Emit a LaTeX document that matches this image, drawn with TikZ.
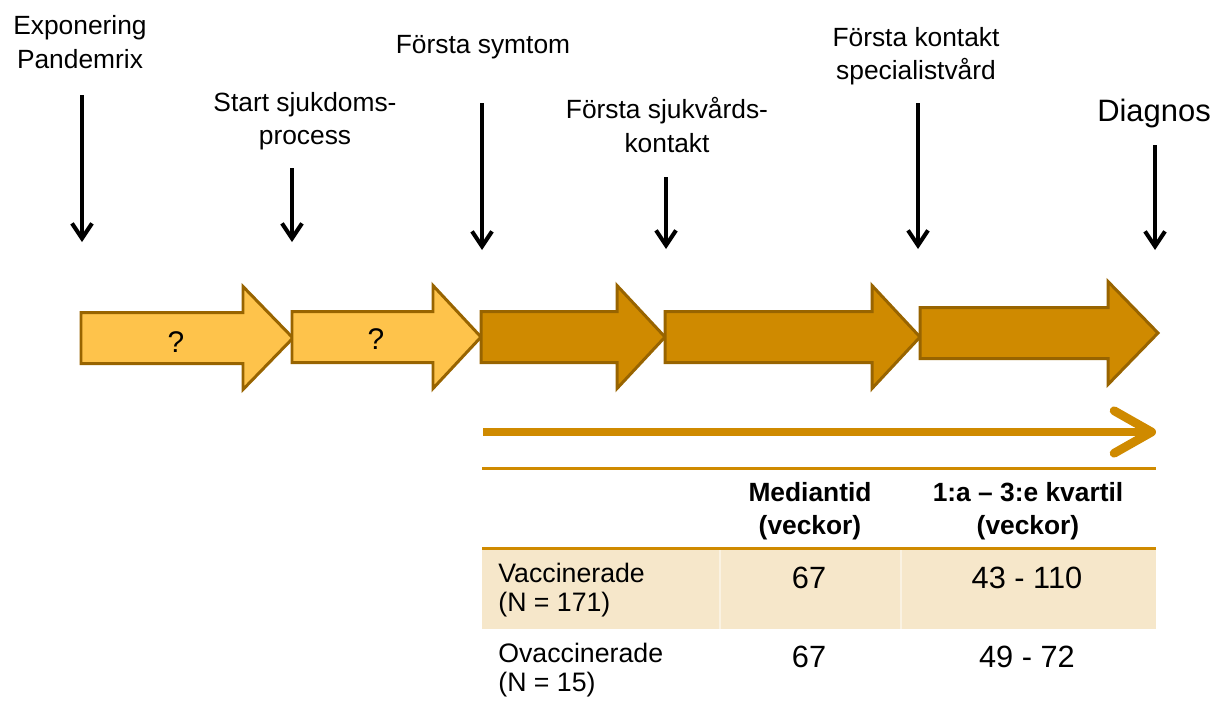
\documentclass[tikz,border=0pt]{standalone}
\usepackage{fontspec}
\setmainfont{Liberation Sans}
\usetikzlibrary{arrows.meta, positioning}

\begin{document}
\begin{tikzpicture}[x=0.02cm, y=-0.02cm,
    etikett/.style={align=center, inner sep=0pt, font=\fontsize{15}{19}\selectfont},
    pil/.style={line width=2.3pt, -{Straight Barb[length=0.3cm, width=0.4cm]}},
    blockpil/.style={line width=1.7pt, draw=kant, line join=miter},
    tabtext/.style={align=left, inner sep=0pt, font=\fontsize{15.2}{16.8}\selectfont},
    rubrik/.style={align=center, inner sep=0pt, font=\bfseries\fontsize{15}{18.7}\selectfont},
    tal/.style={inner sep=0pt, font=\fontsize{17.5}{19}\selectfont},
    tablinje/.style={line width=1.7pt, draw=morkorange}]
    % Färger
    \definecolor{ljusorange}{RGB}{254, 195, 75}
    \definecolor{morkorange}{RGB}{207, 138, 0}
    \definecolor{kant}{RGB}{152, 100, 0}
    \definecolor{tabbeige}{RGB}{246, 231, 202}

    \useasboundingbox (0,0) rectangle (1213,704);

    % 1. Händelser ovanför tidslinjen
    \node[etikett] (exp) at (80,42) {Exponering\\Pandemrix};
    \node[etikett] (start) at (305,121) {Start sjukdoms-\\process};
    \node[etikett] (symtom) at (483,47) {Första symtom};
    \node[etikett] (sjukv) at (667,125) {Första sjukvårds-\\kontakt};
    \node[etikett] (spec) at (916,56) {Första kontakt\\specialistvård};
    \node[etikett, font=\fontsize{17.6}{20}\selectfont] (diag) at (1154,113) {Diagnos};

    % 2. Svarta pilar ned mot tidslinjen
    \foreach \n/\x/\ya/\yb in {exp/82/95/242, start/292/168/242, symtom/482/103/250,
                               sjukv/666/177/249, spec/918/103/249, diag/1155/145/250} {
        \coordinate (\n-a) at (\x,\ya);
        \coordinate (\n-b) at (\x,\yb);
        \draw[pil] (\n-a) -- (\n-b);
    }

    % 3. Blockpilar (fem faser)
    \foreach \xa/\xb/\xc/\yc/\col in {81/243/293/338/ljusorange, 292/433/481/337/ljusorange,
                                     481/617/665/337/morkorange, 665/872/920/337/morkorange,
                                     920/1108/1158/333/morkorange} {
        \draw[blockpil, fill=\col] (\xa,\yc-25.5) -- (\xb,\yc-25.5) -- (\xb,\yc-51.5) -- (\xc,\yc)
            -- (\xb,\yc+51.5) -- (\xb,\yc+25.5) -- (\xa,\yc+25.5) -- cycle;
    }
    \node[etikett, font=\fontsize{17}{20}\selectfont] (q1) at (176,342) {?};
    \node[etikett, font=\fontsize{17}{20}\selectfont] (q2) at (376,339) {?};

    % 4. Lång pil för tiden
    \coordinate (tid-a) at (483,432);
    \coordinate (tid-b) at (1156,432);
    \draw[line width=5pt, morkorange, -{Straight Barb[length=0.75cm, width=0.85cm, line cap=round, line join=round]}] (tid-a) -- (tid-b);

    % 5. Tabell
    \fill[tabbeige] (482,549) rectangle (1156,629);
    \draw[white!45!tabbeige, line width=0.6pt] (720,549) -- (720,629) (901,549) -- (901,629);
    \draw[tablinje] (482,468) -- (1156,468);
    \draw[tablinje] (482,548) -- (1156,548);

    \node[rubrik] (median) at (810,511) {Mediantid\\(veckor)};
    \node[rubrik] (kvartil) at (1028,511) {1:a – 3:e kvartil\\(veckor)};

    \node[tabtext, anchor=west] (vacc) at (498,590) {Vaccinerade\\(N = 171)};
    \node[tal] (vacc-med) at (809,578) {67};
    \node[tal] (vacc-kv) at (1027,578) {43 - 110};

    \node[tabtext, anchor=west] (ovacc) at (498,670) {Ovaccinerade\\(N = 15)};
    \node[tal] (ovacc-med) at (809,657) {67};
    \node[tal] (ovacc-kv) at (1027,657) {49 - 72};

\end{tikzpicture}
\end{document}
